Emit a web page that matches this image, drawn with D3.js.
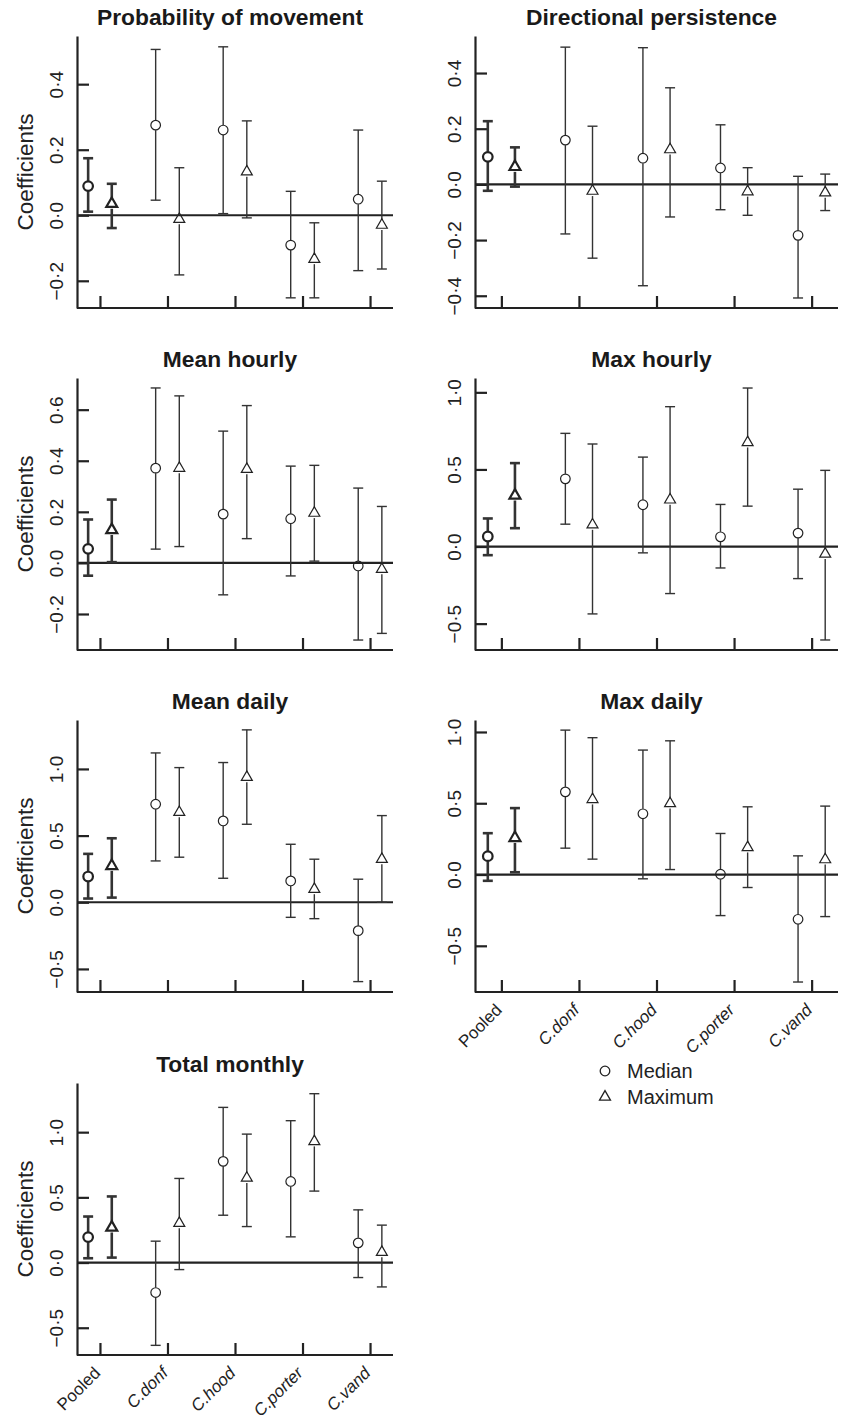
<!DOCTYPE html>
<html>
<head>
<meta charset="utf-8">
<script src="https://cdn.jsdelivr.net/npm/d3@7"></script>
<style>
  html, body { margin: 0; padding: 0; background: #fff; }
  svg { display: block; font-family: "Liberation Sans", Arial, Helvetica, sans-serif; }
</style>
</head>
<body>
<svg id="chart" width="841" height="1419"></svg>
<script>
// ---------------- DATA ----------------
const categories = ["Pooled", "C.donf", "C.hood", "C.porter", "C.vand"];
const panelTitles = ["Probability of movement", "Directional persistence", "Mean hourly",
  "Max hourly", "Mean daily", "Max daily", "Total monthly"];

// Probability of movement
const probMedian = [0.089, 0.275, 0.26, -0.091, 0.049];
const probMedianLo = [0.011, 0.046, 0.005, -0.252, -0.169];
const probMedianHi = [0.174, 0.506, 0.514, 0.073, 0.26];
const probMax = [0.035, -0.012, 0.133, -0.134, -0.03];
const probMaxLo = [-0.039, -0.182, -0.008, -0.252, -0.164];
const probMaxHi = [0.096, 0.145, 0.288, -0.023, 0.104];
const probTicks = [-0.2, 0, 0.2, 0.4];

// Directional persistence
const dirMedian = [0.099, 0.159, 0.094, 0.059, -0.183];
const dirMedianLo = [-0.023, -0.178, -0.364, -0.091, -0.408];
const dirMedianHi = [0.227, 0.493, 0.491, 0.214, 0.029];
const dirMax = [0.063, -0.024, 0.125, -0.026, -0.03];
const dirMaxLo = [-0.008, -0.265, -0.117, -0.111, -0.094];
const dirMaxHi = [0.133, 0.209, 0.347, 0.06, 0.037];
const dirTicks = [-0.4, -0.2, 0, 0.2, 0.4];

// Mean hourly
const mhMedian = [0.055, 0.371, 0.191, 0.173, -0.012];
const mhMedianLo = [-0.05, 0.054, -0.125, -0.051, -0.302];
const mhMedianHi = [0.17, 0.685, 0.516, 0.379, 0.293];
const mhMax = [0.129, 0.371, 0.367, 0.195, -0.025];
const mhMaxLo = [0.003, 0.064, 0.095, 0.007, -0.276];
const mhMaxHi = [0.248, 0.654, 0.616, 0.382, 0.221];
const mhTicks = [-0.2, 0, 0.2, 0.4, 0.6];

// Max hourly
const xhMedian = [0.065, 0.439, 0.271, 0.063, 0.087];
const xhMedianLo = [-0.056, 0.145, -0.041, -0.139, -0.208];
const xhMedianHi = [0.182, 0.734, 0.58, 0.273, 0.372];
const xhMax = [0.331, 0.141, 0.303, 0.675, -0.048];
const xhMaxLo = [0.119, -0.437, -0.305, 0.262, -0.606];
const xhMaxHi = [0.541, 0.665, 0.907, 1.028, 0.494];
const xhTicks = [-0.5, 0, 0.5, 1.0];

// Mean daily
const mdMedian = [0.193, 0.735, 0.61, 0.16, -0.213];
const mdMedianLo = [0.028, 0.31, 0.18, -0.113, -0.595];
const mdMedianHi = [0.363, 1.12, 1.048, 0.435, 0.173];
const mdMax = [0.273, 0.675, 0.938, 0.098, 0.323];
const mdMaxLo = [0.035, 0.338, 0.585, -0.123, 0.0];
const mdMaxHi = [0.48, 1.01, 1.293, 0.323, 0.65];
const mdTicks = [-0.5, 0, 0.5, 1.0];

// Max daily
const xdMedian = [0.129, 0.58, 0.426, 0.002, -0.314];
const xdMedianLo = [-0.044, 0.185, -0.03, -0.288, -0.754];
const xdMedianHi = [0.29, 1.013, 0.873, 0.288, 0.131];
const xdMax = [0.257, 0.527, 0.498, 0.19, 0.105];
const xdMaxLo = [0.016, 0.108, 0.035, -0.091, -0.295];
const xdMaxHi = [0.466, 0.96, 0.938, 0.475, 0.48];
const xdTicks = [-0.5, 0, 0.5, 1.0];

// Total monthly
const tmMedian = [0.195, -0.23, 0.776, 0.622, 0.151];
const tmMedianLo = [0.033, -0.635, 0.363, 0.197, -0.115];
const tmMedianHi = [0.353, 0.164, 1.19, 1.088, 0.404];
const tmMax = [0.269, 0.302, 0.648, 0.929, 0.079];
const tmMaxLo = [0.038, -0.054, 0.276, 0.548, -0.187];
const tmMaxHi = [0.507, 0.645, 0.985, 1.295, 0.287];
const tmTicks = [-0.5, 0, 0.5, 1.0];

const legendLabels = ["Median", "Maximum"];

// ---------------- LAYOUT ----------------
const panels = [
  { title: panelTitles[0], med: probMedian, medLo: probMedianLo, medHi: probMedianHi, mx: probMax, mxLo: probMaxLo, mxHi: probMaxHi, ticks: probTicks, yDom: [-0.283, 0.547], box: [77, 36, 393, 308], ylab: true, xlab: false },
  { title: panelTitles[1], med: dirMedian, medLo: dirMedianLo, medHi: dirMedianHi, mx: dirMax, mxLo: dirMaxLo, mxHi: dirMaxHi, ticks: dirTicks, yDom: [-0.444, 0.533], box: [475, 36, 838, 308], ylab: false, xlab: false },
  { title: panelTitles[2], med: mhMedian, medLo: mhMedianLo, medHi: mhMedianHi, mx: mhMax, mxLo: mhMaxLo, mxHi: mhMaxHi, ticks: mhTicks, yDom: [-0.341, 0.724], box: [77, 378, 393, 650], ylab: true, xlab: false },
  { title: panelTitles[3], med: xhMedian, medLo: xhMedianLo, medHi: xhMedianHi, mx: xhMax, mxLo: xhMaxLo, mxHi: xhMaxHi, ticks: xhTicks, yDom: [-0.671, 1.093], box: [475, 378, 838, 650], ylab: false, xlab: false },
  { title: panelTitles[4], med: mdMedian, medLo: mdMedianLo, medHi: mdMedianHi, mx: mdMax, mxLo: mdMaxLo, mxHi: mdMaxHi, ticks: mdTicks, yDom: [-0.673, 1.367], box: [77, 720, 393, 992], ylab: true, xlab: false },
  { title: panelTitles[5], med: xdMedian, medLo: xdMedianLo, medHi: xdMedianHi, mx: xdMax, mxLo: xdMaxLo, mxHi: xdMaxHi, ticks: xdTicks, yDom: [-0.824, 1.084], box: [475, 720, 838, 992], ylab: false, xlab: true },
  { title: panelTitles[6], med: tmMedian, medLo: tmMedianLo, medHi: tmMedianHi, mx: tmMax, mxLo: tmMaxLo, mxHi: tmMaxHi, ticks: tmTicks, yDom: [-0.709, 1.377], box: [77, 1083, 393, 1355], ylab: true, xlab: true }
];

const ink = "#222";
const barInk = "#333";
const svg = d3.select("#chart");

function fmt(v) {
  let s = d3.format(".1f")(Math.abs(v) < 1e-9 ? 0 : v);
  return s.replace("-", "\u2212").replace(".", "\u00b7");
}

const triangle = d3.symbol().type(d3.symbolTriangle).size(52);

panels.forEach(p => {
  const [x0, y0, x1, y1] = p.box;
  const g = svg.append("g");
  const x = d3.scalePoint().domain(categories).range([x0, x1]).padding(0.34);
  const y = d3.scaleLinear().domain(p.yDom).range([y1, y0]);
  const off = x.step() * 0.175;

  // title
  g.append("text").attr("x", (x0 + x1) / 2 - 5).attr("y", y0 - 11)
    .attr("text-anchor", "middle").attr("font-weight", "bold").attr("font-size", 22.8)
    .attr("fill", "#1a1a1a").text(p.title);

  // y axis
  const yAxis = d3.axisLeft(y).tickValues(p.ticks).tickSize(-12).tickSizeOuter(0).tickFormat(fmt);
  const ya = g.append("g").attr("transform", `translate(${x0},0)`).call(yAxis);
  ya.select(".domain").attr("stroke", ink).attr("stroke-width", 2.2);
  ya.selectAll(".tick line").attr("stroke", ink).attr("stroke-width", 2.2);
  ya.selectAll(".tick text").attr("x", null).attr("dy", null)
    .attr("text-anchor", "middle").attr("transform", "translate(-14,0) rotate(-90)")
    .attr("font-size", 19).attr("font-family", null).attr("fill", "#222");

  // x axis
  const xAxis = d3.axisBottom(x).tickSize(-12).tickSizeOuter(0).tickFormat("");
  const xa = g.append("g").attr("transform", `translate(0,${y1})`).call(xAxis);
  xa.select(".domain").attr("stroke", ink).attr("stroke-width", 2.2).attr("d", `M${x0},0H${x1}`);
  xa.selectAll(".tick line").attr("stroke", ink).attr("stroke-width", 2.2);

  if (p.xlab) {
    xa.selectAll(".tick").append("text")
      .attr("text-anchor", "end")
      .attr("transform", "translate(1,19) rotate(-45)")
      .attr("font-size", 17).attr("fill", "#222")
      .attr("font-style", d => d === "Pooled" ? "normal" : "italic")
      .text(d => d);
  }

  if (p.ylab) {
    g.append("text").attr("transform", `translate(33,${(y0 + y1) / 2}) rotate(-90)`)
      .attr("text-anchor", "middle").attr("font-size", 22.5).attr("fill", "#222")
      .text("Coefficients");
  }

  // zero line
  g.append("line").attr("x1", x0).attr("x2", x1).attr("y1", y(0)).attr("y2", y(0))
    .attr("stroke", ink).attr("stroke-width", 2.2);

  // error bars and points
  const gap = 5;
  const series = [
    { est: p.med, lo: p.medLo, hi: p.medHi, dx: -off, shape: "circle" },
    { est: p.mx, lo: p.mxLo, hi: p.mxHi, dx: off, shape: "triangle" }
  ];
  series.forEach(s => {
    categories.forEach((c, i) => {
      const cx = x(c) + s.dx;
      const cy = y(s.est[i]);
      const ylo = y(s.lo[i]), yhi = y(s.hi[i]);
      const sw = i === 0 ? 2.6 : 1.4;
      const bg = g.append("g").attr("stroke", barInk).attr("stroke-width", sw).attr("fill", "none");
      if (yhi < cy - gap) bg.append("line").attr("x1", cx).attr("x2", cx).attr("y1", yhi).attr("y2", cy - gap);
      if (ylo > cy + gap) bg.append("line").attr("x1", cx).attr("x2", cx).attr("y1", cy + gap).attr("y2", ylo);
      bg.append("line").attr("x1", cx - 5).attr("x2", cx + 5).attr("y1", yhi).attr("y2", yhi);
      bg.append("line").attr("x1", cx - 5).attr("x2", cx + 5).attr("y1", ylo).attr("y2", ylo);
      const mw = i === 0 ? 2.2 : 1.2;
      if (s.shape === "circle") {
        g.append("circle").attr("cx", cx).attr("cy", cy).attr("r", 4.8)
          .attr("fill", "none").attr("stroke", "#222").attr("stroke-width", mw);
      } else {
        g.append("path").attr("d", triangle()).attr("transform", `translate(${cx},${cy})`)
          .attr("fill", "none").attr("stroke", "#222").attr("stroke-width", mw);
      }
    });
  });
});

// legend
const lg = svg.append("g");
lg.append("circle").attr("cx", 605).attr("cy", 1071).attr("r", 4.8)
  .attr("fill", "none").attr("stroke", "#222").attr("stroke-width", 1.3);
lg.append("path").attr("d", triangle()).attr("transform", "translate(605,1097)")
  .attr("fill", "none").attr("stroke", "#222").attr("stroke-width", 1.3);
lg.selectAll("text.leg").data(legendLabels).join("text").attr("class", "leg")
  .attr("x", 627).attr("y", (d, i) => 1078 + i * 26)
  .attr("font-size", 20).attr("fill", "#222").text(d => d);
</script>
</body>
</html>
